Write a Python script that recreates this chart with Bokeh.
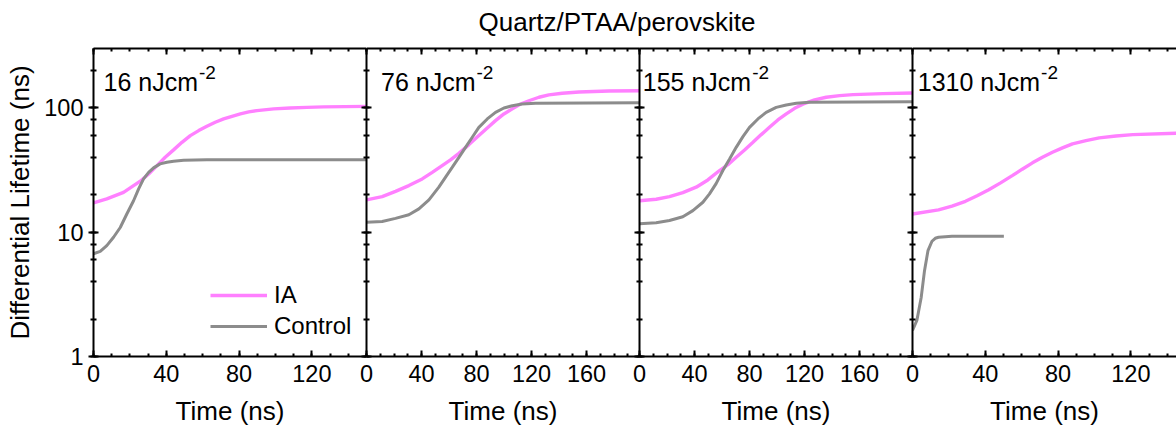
from bokeh.plotting import figure
from bokeh.layouts import row
from bokeh.models import (Range1d, LinearAxis, LogAxis, SingleIntervalTicker, LogTicker,
                          Label, Legend, LegendItem, CustomJSTickFormatter, LogTickFormatter)
from bokeh.embed import file_html
from bokeh.resources import INLINE

# ---------------- data ----------------
fluences = ["16", "76", "155", "1310"]
x_max = [150, 198.5, 198.5, 150]          # axis extent of each panel (ns)

t_ia_16 = [0, 7.3, 16.5, 25.7, 30.3, 34.9, 39.4, 44, 48.6, 53.2, 57.8, 62.3, 66.9, 71.5,
           76.1, 80.7, 85.3, 89.8, 99, 108, 117.3, 126.5, 150]
ia_16 = [17.2, 18.5, 20.9, 25.7, 29.4, 34.3, 40, 45.9, 52.8, 59.8, 65.6, 71, 76.5, 81.4,
         85.5, 89.3, 92.7, 95, 98, 99.8, 100.9, 101.7, 102.8]
t_ct_16 = [0, 3.7, 7.3, 11, 14.7, 18.3, 22, 24.8, 27.5, 30.3, 33, 36.6, 40.3, 44, 49.5, 62.3, 150]
ct_16 = [6.7, 7.0, 7.8, 9.1, 10.9, 14.0, 17.9, 22.3, 26.8, 30.3, 32.9, 35.4, 36.5, 37.2,
         37.8, 38.3, 38.3]

t_ia_76 = [0, 11.4, 21.1, 30.8, 40.5, 47.8, 55, 61.1, 67.2, 74.5, 81.7, 87.8, 93.8, 99.9,
           106, 112, 118.1, 125.4, 132.6, 142.3, 154.5, 176.3, 198.5]
ia_76 = [18.2, 19.3, 21.3, 23.7, 26.8, 30.3, 34.3, 38.1, 43, 50.6, 59.8, 68.9, 78.9, 89.3,
         98, 107.4, 114, 121.6, 127, 130.9, 134, 136.7, 137]
t_ct_76 = [0, 11.4, 21.1, 30.8, 38.1, 45.4, 52.6, 57.5, 62.3, 67.2, 72, 76.9, 81.7, 87.8,
           93.8, 99.9, 106, 113.2, 122.9, 198.5]
ct_76 = [12.0, 12.2, 12.9, 13.8, 15.4, 18.2, 23, 27.7, 33.2, 40, 48.1, 58, 69.7, 81.4,
         92, 99.7, 104, 107.4, 108.7, 110]

t_ia_155 = [0, 12.1, 21.8, 31.5, 41.2, 49.7, 58.2, 64.3, 70.3, 76.4, 82.5, 88.5, 94.5,
            100.6, 106.7, 112.8, 118.8, 127.3, 135.8, 145.5, 155.2, 177, 198.5]
ia_155 = [17.9, 18.4, 19.3, 20.8, 23, 26.3, 31.3, 34.9, 40, 45.8, 52.8, 60.9, 69.7,
          79.9, 89.3, 99.1, 107, 115.7, 121.6, 125.4, 127.7, 130, 131.8]
t_ct_155 = [0, 12.1, 21.8, 31.5, 38.8, 46.1, 50.9, 55.8, 60.6, 65.5, 70.3, 75.2, 80, 86.1,
            92.1, 99.4, 106.7, 114, 123.6, 198.5]
ct_155 = [11.7, 11.9, 12.4, 13.3, 14.9, 17.4, 20.3, 24.7, 31.3, 38.8, 48.1, 58.7, 69.7, 81.4,
          92, 100.9, 105.5, 108.7, 110.7, 112]

t_ia_1310 = [0, 14.3, 21.7, 29.1, 35.5, 41.9, 48.4, 54.8, 60.3, 65.9, 71.4, 76.9, 82.4,
             87.9, 95.3, 102.6, 111.8, 121, 145]
ia_1310 = [14.0, 15.1, 16.2, 17.7, 19.6, 21.9, 24.9, 28.5, 32.1, 36.1, 40, 43.9, 47.6,
           51.3, 54.5, 57.3, 59.4, 60.9, 62.4]
t_ct_1310 = [0, 2.4, 4.8, 6.6, 8.5, 10.7, 12.5, 14.3, 21.7, 50.2]
ct_1310 = [1.62, 1.95, 3.0, 4.9, 7.1, 8.45, 8.93, 9.1, 9.27, 9.27]

ia_series = [(t_ia_16, ia_16), (t_ia_76, ia_76), (t_ia_155, ia_155), (t_ia_1310, ia_1310)]
ct_series = [(t_ct_16, ct_16), (t_ct_76, ct_76), (t_ct_155, ct_155), (t_ct_1310, ct_1310)]

y_min, y_max = 1, 300

# ---------------- layout ----------------
W, H = 1176, 428
FT, FB = 48, 356
PANEL_W = 273
frame_w = [273, 273, 273, 264]       # last panel is cut by the window edge
B = 14                               # left border of panels 2-4 (overlaps previous panel)
TITLE_EXTRA = 130                    # right overflow of panel 2 for the title

FONT = "Liberation Sans"
PINK = "#FF80FF"
GRAY = "#8C8C8C"
LABEL_FS = 25
SUP_FS = 19

empty = CustomJSTickFormatter(code="return ''")
blank = CustomJSTickFormatter(code="return ' '")


def style(ax):
    ax.axis_line_width = 2
    ax.major_tick_line_width = 2
    ax.minor_tick_line_width = 2
    ax.major_label_text_font = FONT
    ax.major_label_text_font_size = "23.5px"
    ax.major_label_text_color = "black"
    ax.axis_label_text_font = FONT
    ax.axis_label_text_font_size = "26px"
    ax.axis_label_text_font_style = "normal"
    ax.axis_label_text_color = "black"


figs = []
for k in range(4):
    bl = 93 if k == 0 else B
    br = TITLE_EXTRA if k == 1 else 0
    xr_end = x_max[k] * frame_w[k] / PANEL_W
    f = figure(width=bl + frame_w[k] + br, height=H, output_backend="svg", toolbar_location=None,
               x_range=Range1d(0, xr_end), y_range=Range1d(y_min, y_max), y_axis_type="log",
               x_axis_location=None, y_axis_location=None,
               min_border_left=bl, min_border_right=br, min_border_top=FT,
               min_border_bottom=H - FB)
    f.xgrid.visible = False
    f.ygrid.visible = False
    f.outline_line_color = None
    f.border_fill_color = None
    f.background_fill_color = None
    if k > 0:
        f.margin = (0, -br, 0, -B)
    else:
        f.margin = (0, 0, 0, 0)

    bx = LinearAxis(bounds=(0, x_max[k]),
                    ticker=SingleIntervalTicker(interval=40, num_minor_ticks=4),
                    axis_label="Time (ns)", major_tick_in=6, major_tick_out=0,
                    minor_tick_in=3, minor_tick_out=0, major_label_standoff=8,
                    axis_label_standoff=11)
    style(bx)
    f.add_layout(bx, "below")

    tx = LinearAxis(bounds=(0, x_max[k]),
                    ticker=SingleIntervalTicker(interval=40, num_minor_ticks=4),
                    formatter=blank if k == 1 else empty, major_tick_in=6, major_tick_out=0,
                    minor_tick_in=3, minor_tick_out=0, major_label_standoff=6)
    style(tx)
    tx.major_label_text_font_size = "1px"
    f.add_layout(tx, "above")

    ly = LogAxis(ticker=LogTicker(), major_tick_in=5, major_tick_out=5,
                 minor_tick_in=3, minor_tick_out=3)
    style(ly)
    if k == 0:
        ly.formatter = LogTickFormatter(min_exponent=3)
        ly.axis_label = "Differential Lifetime (ns)"
        ly.major_label_standoff = 5
        ly.axis_label_standoff = 6
    else:
        ly.formatter = empty
        ly.major_label_standoff = 0
        ly.major_label_text_font_size = "1px"
    f.add_layout(ly, "left")

    t, v = ia_series[k]
    r_ia = f.line(t, v, line_color=PINK, line_width=3.4)
    t, v = ct_series[k]
    r_ct = f.line(t, v, line_color=GRAY, line_width=3)

    # fluence label with superscript (screen units measured from the frame's bottom-left)
    label_off = [10.0, 14.5, 3.3, 5.3][k]
    txt = f"{fluences[k]} nJcm"
    adv = {" ": .278, "n": .556, "J": .5, "c": .5, "m": .833}
    w = sum(adv.get(c, .556) for c in txt) * LABEL_FS
    f.add_layout(Label(x=label_off, y=FB - 81.7, x_units="screen", y_units="screen",
                       text=txt, text_baseline="alphabetic", text_font=FONT,
                       text_font_size=f"{LABEL_FS}px", text_color="black"))
    f.add_layout(Label(x=label_off + w + 1, y=FB - 71.5, x_units="screen", y_units="screen",
                       text="-2", text_baseline="alphabetic", text_font=FONT,
                       text_font_size=f"{SUP_FS}px", text_color="black"))

    if k == 0:
        legend = Legend(items=[LegendItem(label="IA", renderers=[r_ia]),
                               LegendItem(label="Control", renderers=[r_ct])],
                        location=(117, 15), orientation="vertical", glyph_width=57,
                        glyph_height=30, label_height=30, label_standoff=7, spacing=1,
                        padding=0, margin=0, border_line_color=None, background_fill_alpha=0,
                        label_text_font=FONT, label_text_font_size="24px",
                        label_text_color="black")
        f.add_layout(legend)
    if k == 1:
        f.title.text = "Quartz/PTAA/perovskite"
        f.title.align = "left"
        f.title.offset = 112
        f.title.text_font = FONT
        f.title.text_font_size = "26px"
        f.title.text_font_style = "normal"
        f.title.text_color = "black"
        f.title.standoff = 4
    figs.append(f)

layout = row(*figs, spacing=0)
open("out.html", "w").write(file_html(layout, INLINE))
